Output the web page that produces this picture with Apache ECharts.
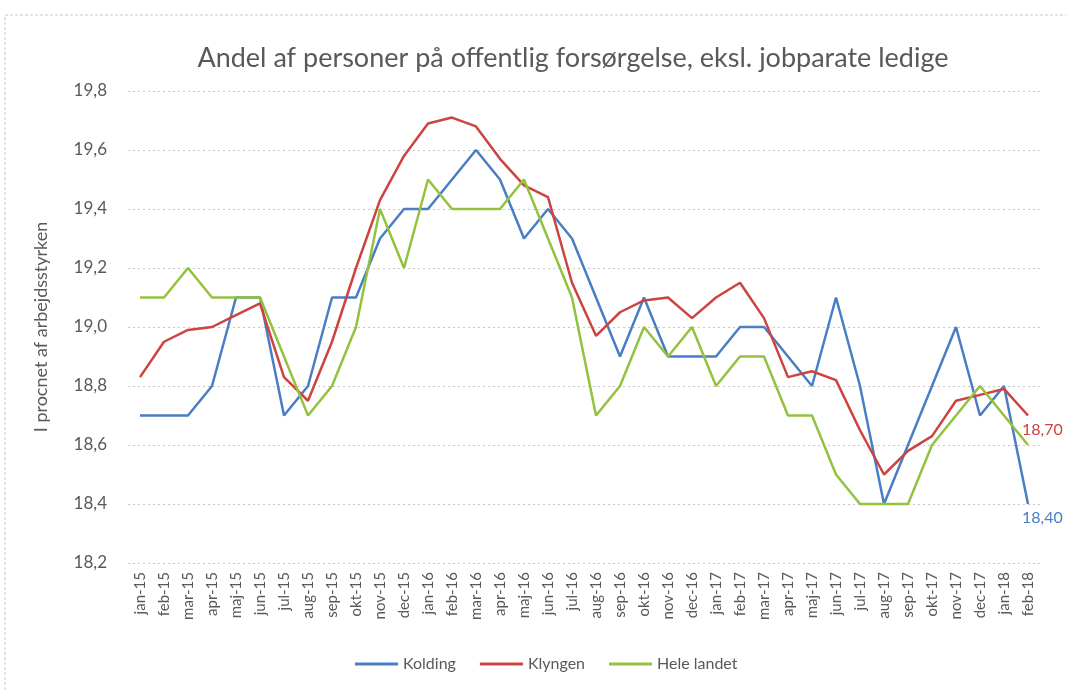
<!DOCTYPE html>
<html>
<head>
<meta charset="utf-8">
<script src="https://cdn.jsdelivr.net/npm/echarts@6/dist/echarts.min.js"></script>
<style>
  html, body { margin: 0; padding: 0; background: #fff; }
  #chart { width: 1066px; height: 691px; }
</style>
</head>
<body>
<div id="chart"></div>
<script>
const months = [
  'jan-15', 'feb-15', 'mar-15', 'apr-15', 'maj-15', 'jun-15', 'jul-15', 'aug-15', 'sep-15', 'okt-15', 'nov-15', 'dec-15',
  'jan-16', 'feb-16', 'mar-16', 'apr-16', 'maj-16', 'jun-16', 'jul-16', 'aug-16', 'sep-16', 'okt-16', 'nov-16', 'dec-16',
  'jan-17', 'feb-17', 'mar-17', 'apr-17', 'maj-17', 'jun-17', 'jul-17', 'aug-17', 'sep-17', 'okt-17', 'nov-17', 'dec-17',
  'jan-18', 'feb-18'
]
const kolding = [
  18.7, 18.7, 18.7, 18.8, 19.1, 19.1, 18.7, 18.8, 19.1, 19.1, 19.3, 19.4,
  19.4, 19.5, 19.6, 19.5, 19.3, 19.4, 19.3, 19.1, 18.9, 19.1, 18.9, 18.9,
  18.9, 19.0, 19.0, 18.9, 18.8, 19.1, 18.8, 18.4, 18.6, 18.8, 19.0, 18.7,
  18.8, 18.4
]
const klyngen = [
  18.83, 18.95, 18.99, 19.0, 19.04, 19.08, 18.83, 18.75, 18.95, 19.2, 19.43, 19.58,
  19.69, 19.71, 19.68, 19.57, 19.48, 19.44, 19.15, 18.97, 19.05, 19.09, 19.1, 19.03,
  19.1, 19.15, 19.03, 18.83, 18.85, 18.82, 18.65, 18.5, 18.58, 18.63, 18.75, 18.77,
  18.79, 18.7
]
const heleLandet = [
  19.1, 19.1, 19.2, 19.1, 19.1, 19.1, 18.9, 18.7, 18.8, 19.0, 19.4, 19.2,
  19.5, 19.4, 19.4, 19.4, 19.5, 19.3, 19.1, 18.7, 18.8, 19.0, 18.9, 19.0,
  18.8, 18.9, 18.9, 18.7, 18.7, 18.5, 18.4, 18.4, 18.4, 18.6, 18.7, 18.8,
  18.7, 18.6
]
const colors = ['#4a7ec4', '#cc4340', '#92c23e']
const textColor = '#595959'
const font = 'Lato, "Open Sans", sans-serif'

const chartDom = document.getElementById('chart')
const myChart = echarts.init(chartDom)

function endLabel(color) {
  return {
    show: true,
    color: color,
    fontFamily: font,
    fontSize: 16,
    offset: [-14, 14],
    formatter: (p) => p.value.toFixed(2).replace('.', ',')
  }
}

const option = {
  animation: false,
  textStyle: { fontFamily: font },
  color: colors,
  title: {
    text: 'Andel af personer på offentlig forsørgelse, eksl. jobparate ledige',
    left: 568,
    textAlign: 'center',
    top: 40,
    textStyle: { fontFamily: font, fontSize: 27, fontWeight: 'normal', color: textColor }
  },
  graphic: [
    {
      type: 'rect',
      shape: { x: 5, y: 15, width: 1100, height: 800 },
      style: { fill: 'none', stroke: '#c8c8c8', lineWidth: 1, lineDash: [3, 2] },
      silent: true
    }
  ],
  legend: {
    bottom: 14,
    left: 350,
    itemWidth: 43,
    itemHeight: 3,
    itemGap: 24,
    icon: 'rect',
    textStyle: { fontFamily: font, fontSize: 16, color: textColor },
    data: ['Kolding', 'Klyngen', 'Hele landet']
  },
  grid: { left: 128, right: 26, top: 91, bottom: 128 },
  xAxis: {
    type: 'category',
    boundaryGap: true,
    data: months,
    axisLine: { show: false },
    axisTick: { show: false },
    axisLabel: { rotate: 90, fontSize: 15, color: textColor, fontFamily: font, margin: 9, interval: 0 }
  },
  yAxis: {
    type: 'value',
    min: 18.2,
    max: 19.8,
    interval: 0.2,
    name: 'I procnet af arbejdsstyrken',
    nameLocation: 'middle',
    nameGap: 78,
    nameTextStyle: { fontFamily: font, fontSize: 18, color: textColor },
    axisLabel: {
      fontSize: 17,
      color: textColor,
      fontFamily: font,
      margin: 21,
      formatter: (v) => v.toFixed(1).replace('.', ',')
    },
    splitLine: { lineStyle: { color: '#c6c6c6', type: [2, 3], width: 1 } }
  },
  series: [
    {
      name: 'Kolding',
      type: 'line',
      showSymbol: false,
      lineStyle: { width: 2.5 },
      data: kolding,
      endLabel: endLabel(colors[0])
    },
    {
      name: 'Klyngen',
      type: 'line',
      showSymbol: false,
      lineStyle: { width: 2.5 },
      data: klyngen,
      endLabel: endLabel(colors[1])
    },
    {
      name: 'Hele landet',
      type: 'line',
      showSymbol: false,
      lineStyle: { width: 2.5 },
      data: heleLandet
    }
  ]
}
option && myChart.setOption(option)
</script>
</body>
</html>
